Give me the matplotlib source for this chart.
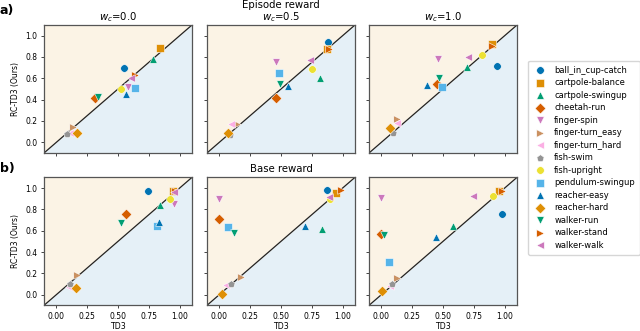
import matplotlib.pyplot as plt
import seaborn as sns

# task names, in legend order
tasks = ["ball_in_cup-catch", "cartpole-balance", "cartpole-swingup", "cheetah-run",
         "finger-spin", "finger-turn_easy", "finger-turn_hard", "fish-swim",
         "fish-upright", "pendulum-swingup", "reacher-easy", "reacher-hard",
         "walker-run", "walker-stand", "walker-walk"]
markers = ["o", "s", "^", "D", "v", ">", "<", "p"]

# episode reward, w_c = 0.0  (TD3, RC-TD3)
ep_w00_td3 = [0.545, 0.843, 0.78, 0.314, 0.585, 0.135, 0.108, 0.087, 0.523, 0.637, 0.564, 0.168, 0.341, 0.64, 0.607]
ep_w00_rc = [0.697, 0.888, 0.78, 0.416, 0.516, 0.144, 0.084, 0.075, 0.503, 0.513, 0.453, 0.09, 0.425, 0.634, 0.606]
# episode reward, w_c = 0.5
ep_w05_td3 = [0.881, 0.875, 0.82, 0.46, 0.46, 0.144, 0.095, 0.09, 0.753, 0.488, 0.556, 0.07, 0.496, 0.89, 0.734]
ep_w05_rc = [0.94, 0.878, 0.603, 0.413, 0.753, 0.175, 0.175, 0.07, 0.688, 0.653, 0.528, 0.084, 0.544, 0.875, 0.769]
# episode reward, w_c = 1.0
ep_w10_td3 = [0.935, 0.899, 0.695, 0.455, 0.458, 0.123, 0.123, 0.095, 0.815, 0.49, 0.368, 0.074, 0.466, 0.899, 0.70]
ep_w10_rc = [0.719, 0.925, 0.709, 0.544, 0.784, 0.219, 0.184, 0.084, 0.816, 0.516, 0.538, 0.131, 0.603, 0.906, 0.803]

# base reward, w_c = 0.0
base_w00_td3 = [0.745, 0.943, 0.837, 0.564, 0.951, 0.165, 0.103, 0.111, 0.921, 0.816, 0.829, 0.157, 0.526, 0.962, 0.957]
base_w00_rc = [0.969, 0.972, 0.84, 0.76, 0.853, 0.181, 0.072, 0.097, 0.897, 0.64, 0.681, 0.066, 0.672, 0.97, 0.963]
# base reward, w_c = 0.5
base_w05_td3 = [0.87, 0.943, 0.829, 0.0, 0.0, 0.176, 0.054, 0.098, 0.894, 0.068, 0.691, 0.019, 0.117, 0.984, 0.889]
base_w05_rc = [0.978, 0.956, 0.619, 0.709, 0.9, 0.169, 0.094, 0.097, 0.894, 0.634, 0.641, 0.009, 0.581, 0.981, 0.916]
# base reward, w_c = 1.0
base_w10_td3 = [0.978, 0.956, 0.58, -0.005, 0.0, 0.128, 0.074, 0.087, 0.907, 0.06, 0.441, 0.003, 0.019, 0.975, 0.741]
base_w10_rc = [0.759, 0.975, 0.641, 0.572, 0.903, 0.156, 0.081, 0.097, 0.922, 0.309, 0.541, 0.034, 0.556, 0.969, 0.922]

panels = [
    [(ep_w00_td3, ep_w00_rc), (ep_w05_td3, ep_w05_rc), (ep_w10_td3, ep_w10_rc)],
    [(base_w00_td3, base_w00_rc), (base_w05_td3, base_w05_rc), (base_w10_td3, base_w10_rc)],
]
titles = [["$w_c$=0.0", "Episode reward\n$w_c$=0.5", "$w_c$=1.0"],
          ["", "Base reward", ""]]

colors = sns.color_palette("colorblind", 10)
lo, hi = -0.1, 1.1

fig = plt.figure(figsize=(6.4, 3.31), dpi=100)
lefts = [0.06875, 0.3234, 0.5766]
bottoms = [0.5378, 0.0775]
w, h = 0.23125, 0.3867

for r in range(2):
    for c in range(3):
        ax = fig.add_axes([lefts[c], bottoms[r], w, h])
        ax.fill_between([lo, hi], [lo, hi], hi, color=colors[1], alpha=0.1, lw=0)
        ax.fill_between([lo, hi], [lo, hi], lo, color=colors[0], alpha=0.1, lw=0)
        ax.plot([lo, hi], [lo, hi], color="#222222", lw=0.9)
        xs, ys = panels[r][c]
        for i, t in enumerate(tasks):
            ax.scatter(xs[i], ys[i], marker=markers[i % len(markers)], color=colors[i % 10],
                       s=30, edgecolor="white", linewidth=0.4, label=t, zorder=3)
        ax.set_xlim(lo, hi)
        ax.set_ylim(lo, hi)
        ax.set_xticks([0, 0.25, 0.5, 0.75, 1.0])
        ax.set_yticks([0, 0.2, 0.4, 0.6, 0.8, 1.0])
        ax.tick_params(labelsize=5.5, length=2.5, width=0.7, pad=2.2, color="#444444")
        for s in ax.spines.values():
            s.set_color("#555555")
            s.set_linewidth(0.9)
        if r == 0:
            ax.set_xticklabels([])
        else:
            ax.set_xticklabels(["0.00", "0.25", "0.50", "0.75", "1.00"])
            ax.set_xlabel("TD3", fontsize=5.7, labelpad=1)
        if c == 0:
            ax.set_yticklabels(["0.0", "0.2", "0.4", "0.6", "0.8", "1.0"])
            ax.set_ylabel("RC-TD3 (Ours)", fontsize=5.5, labelpad=4)
        else:
            ax.set_yticklabels([])
        if titles[r][c]:
            ax.set_title(titles[r][c], fontsize=7.3, pad=3.5, linespacing=1.05)
        if r == 0 and c == 0:
            handles, labels = ax.get_legend_handles_labels()

fig.legend(handles, labels, loc="center left", bbox_to_anchor=(0.825, 0.524),
           fontsize=6, labelspacing=0.42, handletextpad=0.95, borderpad=0.6,
           handlelength=1.6, borderaxespad=0)
fig.text(0.0, 0.988, "a)", fontsize=9, fontweight="bold", va="top")
fig.text(0.0, 0.51, "b)", fontsize=9, fontweight="bold", va="top")

plt.savefig("out.png")
